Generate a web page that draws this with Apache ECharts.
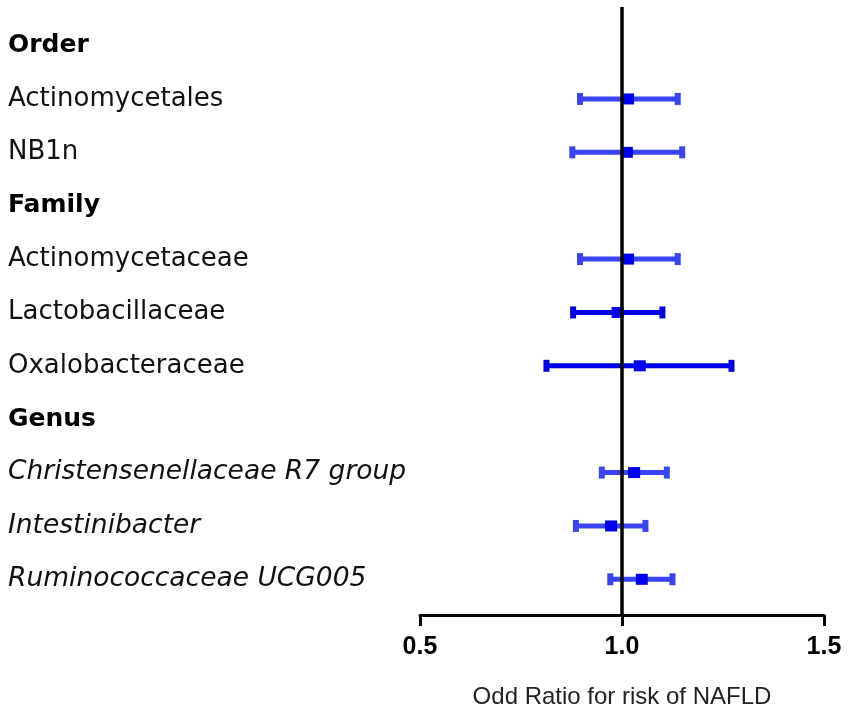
<!DOCTYPE html>
<html>
<head>
<meta charset="utf-8">
<script src="https://cdn.jsdelivr.net/npm/echarts@6/dist/echarts.min.js"></script>
<style>html,body{margin:0;padding:0;background:#fff}#c{width:850px;height:714px}</style>
</head>
<body>
<div id="c"></div>
<script>
const categories = ['Order','Actinomycetales','NB1n','Family','Actinomycetaceae','Lactobacillaceae','Oxalobacteraceae','Genus','Christensenellaceae R7 group','Intestinibacter','Ruminococcaceae UCG005'];
const headers = ['Order','Family','Genus'];
const oddsRatio = [null, 1.015, 1.012, null, 1.015, 0.989, 1.044, null, 1.030, 0.973, 1.049];
const lowerCI   = [null, 0.896, 0.877, null, 0.896, 0.879, 0.813, null, 0.950, 0.886, 0.971];
const upperCI   = [null, 1.138, 1.149, null, 1.138, 1.100, 1.271, null, 1.111, 1.058, 1.125];
const xTicks = [0.5, 1.0, 1.5];
const refValue = 1.0;
const xTitle = 'Odd Ratio for risk of NAFLD';

const genusStart = categories.indexOf('Genus');
const solidTaxa = ['Lactobacillaceae','Oxalobacteraceae'];

const ciData = [];
categories.forEach((c, i) => {
  if (oddsRatio[i] != null) ciData.push([lowerCI[i], upperCI[i], oddsRatio[i], i]);
});

const chart = echarts.init(document.getElementById('c'), null, {renderer: 'canvas'});
chart.setOption({
  animation: false,
  backgroundColor: '#fff',
  grid: [
    {left: 420, right: 26, top: 18.9, height: 587.1},
    {left: 420, right: 26, top: 7, bottom: 99}
  ],
  xAxis: [
    {gridIndex: 0, type: 'value', min: xTicks[0], max: xTicks[xTicks.length-1], show: false},
    {gridIndex: 1, type: 'value', min: xTicks[0], max: xTicks[xTicks.length-1], interval: 0.5,
     position: 'bottom',
     axisLine: {show: true, onZero: false, lineStyle: {color: '#000', width: 3}},
     axisTick: {show: true, length: 11, lineStyle: {color: '#000', width: 3}},
     splitLine: {show: false},
     axisLabel: {margin: 20, color: '#000', fontFamily: 'Liberation Sans, Arial', fontWeight: 'bold', fontSize: 25,
                 formatter: v => v.toFixed(1)},
     name: xTitle, nameLocation: 'middle', nameGap: 70,
     nameTextStyle: {color: '#222', fontFamily: 'Liberation Sans, Arial', fontSize: 24}}
  ],
  yAxis: [
    {gridIndex: 0, type: 'category', inverse: true, data: categories,
     axisLine: {show: false}, axisTick: {show: false}, splitLine: {show: false},
     axisLabel: {interval: 0, margin: 412, align: 'left', color: '#111',
       formatter: (v) => {
         const i = categories.indexOf(v);
         if (headers.includes(v)) return '{h|' + v + '}';
         if (i > genusStart) return '{i|' + v + '}';
         return '{n|' + v + '}';
       },
       rich: {
         h: {fontFamily: 'DejaVu Sans', fontWeight: 'bold', fontSize: 25, color: '#000'},
         n: {fontFamily: 'DejaVu Sans', fontSize: 26, color: '#111'},
         i: {fontFamily: 'DejaVu Sans', fontStyle: 'italic', fontSize: 26.5, color: '#111'}
       }}},
    {gridIndex: 1, type: 'value', min: 0, max: 1, show: false}
  ],
  series: [
    {
      type: 'custom', xAxisIndex: 0, yAxisIndex: 0, z: 2,
      encode: {x: [0, 1, 2], y: 3},
      data: ciData,
      renderItem: (params, api) => {
        const lo = api.value(0), hi = api.value(1), or = api.value(2), idx = api.value(3);
        const pL = api.coord([lo, idx]);
        const pH = api.coord([hi, idx]);
        const pO = api.coord([or, idx]);
        const solid = solidTaxa.includes(categories[idx]);
        const barColor = solid ? '#0000e6' : '#3a44f2';
        return {
          type: 'group',
          children: [
            {type: 'line', shape: {x1: pL[0], y1: pL[1], x2: pH[0], y2: pH[1]},
             style: {stroke: barColor, lineWidth: 5}},
            {type: 'rect', shape: {x: pL[0] - 3, y: pL[1] - 6, width: 6, height: 12},
             style: {fill: barColor}},
            {type: 'rect', shape: {x: pH[0] - 3, y: pH[1] - 6, width: 6, height: 12},
             style: {fill: barColor}},
            {type: 'rect', shape: {x: pO[0] - 6, y: pO[1] - 5.5, width: 12, height: 11},
             style: {fill: '#0000f0'}}
          ]
        };
      }
    },
    {
      type: 'line', xAxisIndex: 1, yAxisIndex: 1, z: 3,
      data: [[refValue, 0], [refValue, 1]],
      symbol: 'none', silent: true,
      lineStyle: {color: '#000', width: 3.5}
    }
  ]
});
</script>
</body>
</html>
